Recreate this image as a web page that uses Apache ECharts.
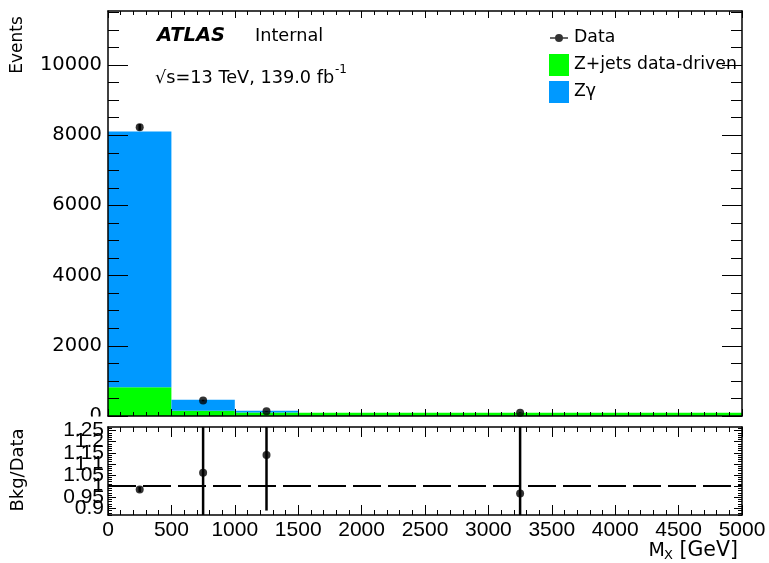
<!DOCTYPE html>
<html><head><meta charset="utf-8">
<script src="https://cdn.jsdelivr.net/npm/echarts@6/dist/echarts.min.js"></script>
<style>html,body{margin:0;padding:0;background:#fff}#c{width:769px;height:563px}</style>
</head><body><div id="c"></div>
<script>
// ---- data ----
const binLow = [0, 500, 1000, 1500];
const binHigh = [500, 1000, 1500, 5000];
const zjets = [820, 150, 100, 90];
const zgamma = [7290, 315, 50, 3];
const dataX = [250, 750, 1250, 3250];
const dataCounts = [8230, 440, 132, 93];
const dataErr = [91, 21, 11, 10];
const ratio = [0.985, 1.06, 1.14, 0.967];
const ratioErr = [0.012, 0.40, 0.25, 0.60];
const eventsTicks = [0, 2000, 4000, 6000, 8000, 10000];
const ratioTicks = [0.9, 0.95, 1, 1.05, 1.1, 1.15, 1.2, 1.25];
const ratioLabelsA = [0.95, 1.05, 1.15, 1.25];
const ratioLabelsB = [0.9, 1, 1.1, 1.2];
const xMin = 0, xMax = 5000, xStep = 500;
const eventsMax = 11540;
const ratioMin = 0.87, ratioMax = 1.266;

const eventsMinor = [];
for (let v = 500; v <= 11500; v += 500) eventsMinor.push(v);
const ratioMinor = [];
for (let i = 87; i <= 126; i++) ratioMinor.push(i / 100);

const F = "'DejaVu Sans', sans-serif";
const FN = "'Liberation Sans', sans-serif";
const BLUE = '#0099ff', GREEN = '#00ff00';

const chart = echarts.init(document.getElementById('c'), null, {renderer: 'canvas'});

function histItem(color) {
  return function (params, api) {
    const p0 = api.coord([api.value(0), api.value(2)]);
    const p1 = api.coord([api.value(1), api.value(3)]);
    return {type: 'rect', shape: {x: p0[0], y: p1[1], width: p1[0] - p0[0], height: p0[1] - p1[1]},
      style: {fill: color}};
  };
}
function errItem(params, api) {
  const x = api.value(0), v = api.value(1), e = api.value(2);
  const a = api.coord([x, v - e]), b = api.coord([x, v + e]);
  return {type: 'line', shape: {x1: a[0], y1: a[1], x2: b[0], y2: b[1]},
    style: {stroke: '#000', lineWidth: 2.5}};
}
const plain = v => String(v);

const lineS = {color: '#000', width: 1.5};
function xAx(grid, pos, showLabel, major, minor, z) {
  return {type: 'value', gridIndex: grid, position: pos, min: xMin, max: xMax, interval: xStep, z: z,
    axisLine: {show: true, onZero: false, lineStyle: lineS},
    axisTick: {show: true, inside: true, length: major, lineStyle: {color: '#000', width: 1}},
    minorTick: {show: true, splitNumber: 5, length: minor, lineStyle: {color: '#000', width: 1}},
    axisLabel: {show: showLabel, fontFamily: FN, fontSize: 21, color: '#000', margin: 5,
      formatter: plain, hideOverlap: false, showMinLabel: true, showMaxLabel: true},
    splitLine: {show: false}, minorSplitLine: {show: false}};
}
function yAx(grid, pos, min, max, ticks, len, showLine, labelOpt, z) {
  return {type: 'value', gridIndex: grid, position: pos, min: min, max: max, z: z,
    axisLine: {show: showLine, onZero: false, lineStyle: lineS},
    axisTick: {show: ticks !== null, inside: true, length: len, customValues: ticks || [], lineStyle: {color: '#000', width: 1}},
    axisLabel: labelOpt ? Object.assign({show: true, color: '#000', formatter: plain, hideOverlap: false,
      showMinLabel: true, showMaxLabel: true}, labelOpt) : {show: false},
    splitLine: {show: false}};
}

const dataIcon = 'path://M0,0h0.01v0.01h-0.01zM19.99,21.99h0.01v0.01h-0.01zM1,10.2h18v1.6h-18zM6,11a4,4 0 1 1 8,0a4,4 0 1 1 -8,0z';

const option = {
  animation: false,
  backgroundColor: '#fff',
  grid: [
    {left: 108, top: 11, width: 634, height: 405},
    {left: 108, top: 427, width: 634, height: 88}
  ],
  xAxis: [
    xAx(0, 'bottom', false, 7, 4, 10),
    xAx(0, 'top', false, 7, 4, 10),
    xAx(1, 'bottom', true, 10, 5, 60),
    xAx(1, 'top', false, 10, 5, 60)
  ],
  yAxis: [
    yAx(0, 'left', 0, eventsMax, eventsTicks, 20, true,
      {customValues: eventsTicks, fontFamily: F, fontSize: 19.5, margin: 6}, 10),
    yAx(0, 'left', 0, eventsMax, eventsMinor, 11, false, null, 10),
    yAx(0, 'right', 0, eventsMax, eventsTicks, 20, true, null, 10),
    yAx(0, 'right', 0, eventsMax, eventsMinor, 11, false, null, 10),
    yAx(1, 'left', ratioMin, ratioMax, ratioTicks, 8, true,
      {customValues: ratioLabelsA, fontFamily: FN, fontSize: 21, margin: 4}, 60),
    yAx(1, 'left', ratioMin, ratioMax, ratioMinor, 4, false,
      {customValues: ratioLabelsB, fontFamily: FN, fontSize: 21, margin: 4}, 60),
    yAx(1, 'right', ratioMin, ratioMax, ratioTicks, 8, true, null, 60),
    yAx(1, 'right', ratioMin, ratioMax, ratioMinor, 4, false, null, 60)
  ],
  legend: {
    left: 544, top: 22, orient: 'vertical', itemWidth: 20, itemHeight: 22, itemGap: 5,
    selectedMode: false,
    textStyle: {fontFamily: F, fontSize: 17.3, color: '#000'},
    data: [
      {name: 'Data', icon: dataIcon, itemStyle: {color: '#000'}},
      {name: 'Z+jets data-driven', icon: 'rect', itemStyle: {color: GREEN}},
      {name: 'Zγ', icon: 'rect', itemStyle: {color: BLUE}}
    ]
  },
  series: [
    {name: 'Z+jets data-driven', type: 'custom', xAxisIndex: 0, yAxisIndex: 0, clip: true,
      itemStyle: {color: GREEN}, renderItem: histItem(GREEN),
      encode: {x: [0, 1], y: [2, 3]},
      data: binLow.map((l, i) => [l, binHigh[i], 0, zjets[i]])},
    {name: 'Zγ', type: 'custom', xAxisIndex: 0, yAxisIndex: 0, clip: true,
      itemStyle: {color: BLUE}, renderItem: histItem(BLUE),
      encode: {x: [0, 1], y: [2, 3]},
      data: binLow.map((l, i) => [l, binHigh[i], zjets[i], zjets[i] + zgamma[i]])},
    {name: 'dataErr', type: 'custom', xAxisIndex: 0, yAxisIndex: 0, clip: true, z: 3,
      renderItem: errItem, encode: {x: 0, y: 1},
      data: dataX.map((x, i) => [x, dataCounts[i], dataErr[i]])},
    {name: 'Data', type: 'scatter', xAxisIndex: 0, yAxisIndex: 0, symbol: 'circle', symbolSize: 8, z: 4,
      itemStyle: {color: '#000'},
      data: dataX.map((x, i) => [x, dataCounts[i]])},
    {name: 'unity', type: 'line', xAxisIndex: 2, yAxisIndex: 4, symbol: 'none', z: 2,
      lineStyle: {color: '#000', width: 2, type: [28, 7]},
      data: [[xMin, 1], [xMax, 1]]},
    {name: 'ratioErr', type: 'custom', xAxisIndex: 2, yAxisIndex: 4, clip: true, z: 3,
      renderItem: errItem, encode: {x: 0, y: 1},
      data: dataX.map((x, i) => [x, ratio[i], ratioErr[i]])},
    {name: 'ratio', type: 'scatter', xAxisIndex: 2, yAxisIndex: 4, symbol: 'circle', symbolSize: 8, z: 4,
      itemStyle: {color: '#000'},
      data: dataX.map((x, i) => [x, ratio[i]])}
  ],
  graphic: [
    {type: 'rect', z: 50, shape: {x: 0, y: 416.5, width: 106, height: 5}, style: {fill: '#fff'}},
    {type: 'text', x: 18, y: 45, rotation: Math.PI / 2,
      style: {text: 'Events', fontFamily: F, fontSize: 17, fill: '#000', align: 'center', verticalAlign: 'middle'}},
    {type: 'text', x: 18, y: 470, rotation: Math.PI / 2,
      style: {text: 'Bkg/Data', fontFamily: F, fontSize: 18, fill: '#000', align: 'center', verticalAlign: 'middle'}},
    {type: 'text', x: 157, y: 36,
      style: {text: 'ATLAS', fontFamily: F, fontSize: 19.5, fontWeight: 'bold', fontStyle: 'italic', fill: '#000', align: 'left', verticalAlign: 'middle'}},
    {type: 'text', x: 255, y: 36,
      style: {text: 'Internal', fontFamily: F, fontSize: 17.7, fill: '#000', align: 'left', verticalAlign: 'middle'}},
    {type: 'text', x: 155, y: 78,
      style: {text: '√s=13 TeV, 139.0 fb', fontFamily: F, fontSize: 17.7, fill: '#000', align: 'left', verticalAlign: 'middle'}},
    {type: 'text', x: 347, y: 70,
      style: {text: '-1', fontFamily: F, fontSize: 12, fill: '#000', align: 'right', verticalAlign: 'middle'}},
    {type: 'text', x: 738, y: 551,
      style: {text: '[GeV]', fontFamily: F, fontSize: 20.5, fill: '#000', align: 'right', verticalAlign: 'middle'}},
    {type: 'text', x: 673, y: 556,
      style: {text: 'X', fontFamily: F, fontSize: 13, fill: '#000', align: 'right', verticalAlign: 'middle'}},
    {type: 'text', x: 665, y: 551,
      style: {text: 'M', fontFamily: F, fontSize: 19, fill: '#000', align: 'right', verticalAlign: 'middle'}}
  ]
};
chart.setOption(option);
</script>
</body></html>
